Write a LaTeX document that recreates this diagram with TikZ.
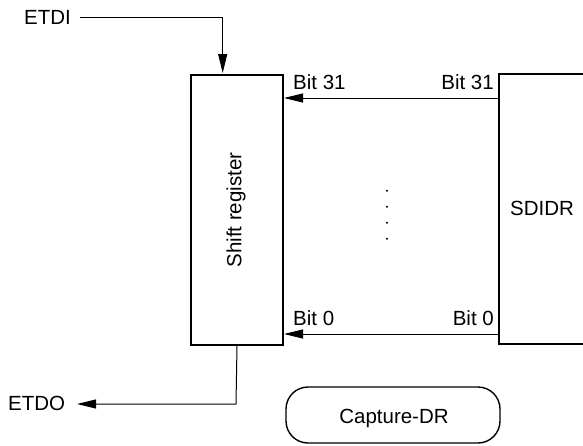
\documentclass[tikz,border=0pt]{standalone}
\usepackage{fontspec}
\setmainfont{Liberation Sans}
\usetikzlibrary{arrows.meta}
\begin{document}
\begin{tikzpicture}[x=1pt,y=-1pt,
  lbl/.style={inner sep=0pt,font=\fontsize{20.5}{24}\selectfont},
  boxline/.style={line width=2pt},
  sig/.style={line width=1pt,-{Triangle[length=19pt,width=9pt]}},
  dotmark/.style={circle,fill=black,inner sep=0pt,minimum size=2.2pt}]
\useasboundingbox (0,0) rectangle (583,445);
% Shift register
\node[draw,boxline,minimum width=92pt,minimum height=270pt,inner sep=0pt,anchor=north west] (sr) at (190,74) {};
\node[lbl,rotate=90] (srl) at (236,210) {Shift register};
% SDIDR (cut off at right edge)
\coordinate (sdtl) at (499,74);
\coordinate (sdbl) at (499,344);
\draw[boxline] (590,74) -- (sdtl) -- (sdbl) -- (590,344);
\node[lbl] (sdidr) at (542,208.5) {SDIDR};
% ETDI
\node[lbl,anchor=west] (etdi) at (24,17) {ETDI};
\coordinate (etdiin) at (222.7,17);
\draw[sig] (80,17) -- (etdiin) -- (222.7,73);
% ETDO
\node[lbl,anchor=west] (etdo) at (8,403) {ETDO};
\coordinate (etdocorner) at (236,404);
\draw[sig] (sr.south) -- (etdocorner) -- (77,404);
% Bit arrows
\coordinate (b31s) at (498,98);
\coordinate (b0s) at (498,334);
\draw[sig] (b31s) -- (284,98);
\draw[sig] (b0s) -- (284,334);
\node[lbl,anchor=base west] (b31l) at (293,89) {Bit 31};
\node[lbl,anchor=base east] (b31r) at (494,89) {Bit 31};
\node[lbl,anchor=base west] (b0l) at (293,325) {Bit 0};
\node[lbl,anchor=base east] (b0r) at (494,325) {Bit 0};
% dots
\node[dotmark] (d1) at (387,190.7) {};
\node[dotmark] (d2) at (387,206.7) {};
\node[dotmark] (d3) at (387,222.7) {};
\node[dotmark] (d4) at (387,238.7) {};
% Capture-DR
\node[draw,line width=1.4pt,rounded corners=22pt,minimum width=214pt,minimum height=56pt,inner sep=0pt] (cap) at (393,415) {};
\node[lbl] (capl) at (394,418) {Capture-DR};
\end{tikzpicture}
\end{document}
